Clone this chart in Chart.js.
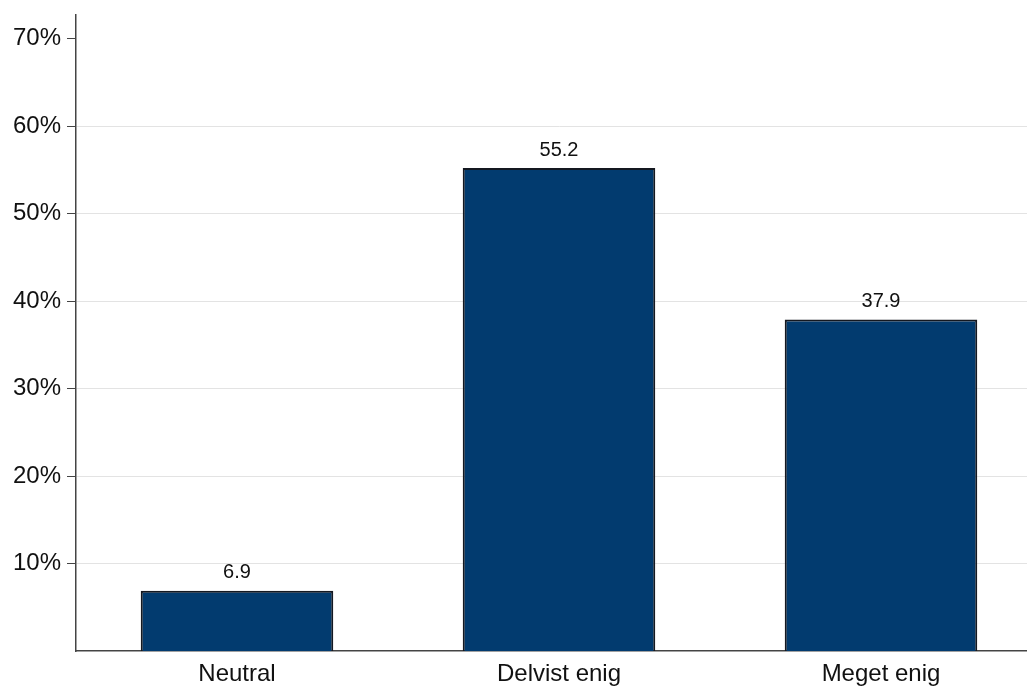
<!DOCTYPE html>
<html>
<head>
<meta charset="utf-8">
<script src="https://cdn.jsdelivr.net/npm/chart.js@4.4.0/dist/chart.umd.min.js"></script>
<style>
html,body{margin:0;padding:0;background:#fff;overflow:hidden;width:1027px;height:686px;}
canvas{display:block;}
</style>
</head>
<body>
<canvas id="c" width="1042" height="686"></canvas>
<script>
const categories = ["Neutral", "Delvist enig", "Meget enig"];
const values = [6.9, 55.2, 37.9];
const valueLabels = ["6.9", "55.2", "37.9"];
const yTicks = [10, 20, 30, 40, 50, 60, 70];
const yMax = 72.7;

const FONT = "'Liberation Sans', Arial, Helvetica, sans-serif";

const valueLabelPlugin = {
  id: 'valueLabels',
  afterDatasetsDraw(chart) {
    const ctx = chart.ctx;
    const meta = chart.getDatasetMeta(0);
    ctx.save();
    ctx.font = "20px " + FONT;
    ctx.fillStyle = "#111";
    ctx.textAlign = "center";
    ctx.textBaseline = "middle";
    meta.data.forEach((bar, i) => {
      ctx.fillText(valueLabels[i], bar.x, bar.y - 18);
    });
    ctx.restore();
  }
};

new Chart(document.getElementById('c'), {
  type: 'bar',
  data: {
    labels: categories,
    datasets: [{
      data: values,
      backgroundColor: '#023b6f',
      borderColor: '#141820',
      borderWidth: 2,
      categoryPercentage: 1.0,
      barPercentage: 0.598
    }]
  },
  options: {
    responsive: false,
    animation: false,
    layout: { padding: { top: 15, left: 0, right: 0, bottom: 0 } },
    plugins: { legend: { display: false }, tooltip: { enabled: false } },
    scales: {
      x: {
        offset: true,
        grid: { display: false },
        border: { display: true, color: '#444', width: 1.5 },
        ticks: { color: '#111', font: { size: 24, family: FONT }, padding: 1, maxRotation: 0 },
        afterFit(scale) { scale.height = 35; }
      },
      y: {
        min: 0,
        max: yMax,
        afterBuildTicks(scale) { scale.ticks = yTicks.map(v => ({ value: v })); },
        grid: {
          color: (c) => (c.tick && c.tick.value === 70) ? 'rgba(0,0,0,0)' : '#e3e3e3',
          tickColor: '#444',
          tickLength: 9,
          lineWidth: 1
        },
        border: { display: true, color: '#444', width: 1.5 },
        ticks: {
          color: '#111',
          font: { size: 24, family: FONT },
          padding: 6,
          callback: (v) => v + '%'
        },
        afterFit(scale) { scale.width = 76; scale.paddingTop = 0; scale.paddingBottom = 0; }
      }
    }
  },
  plugins: [valueLabelPlugin]
});
</script>
</body>
</html>
